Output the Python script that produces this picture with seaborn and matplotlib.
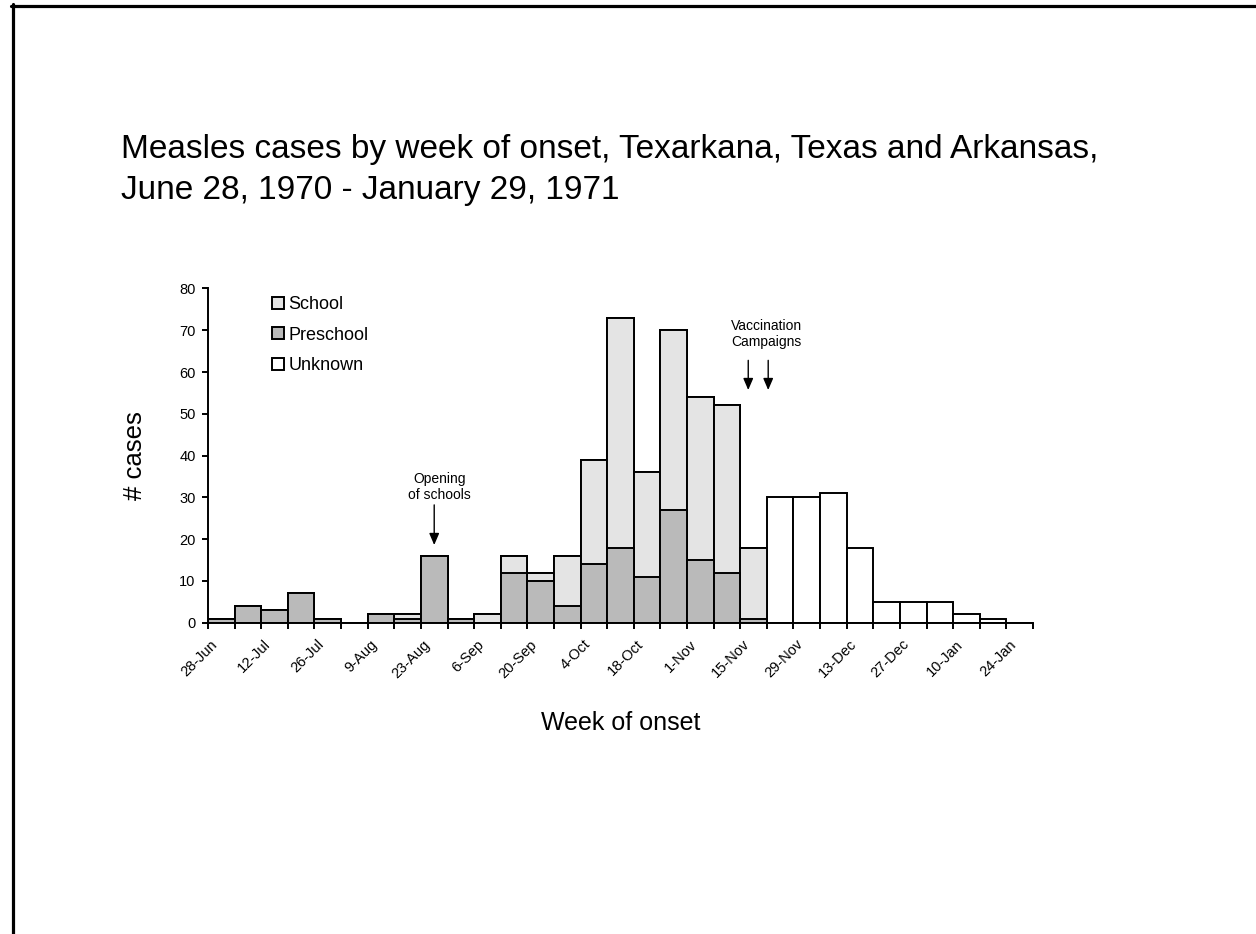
import numpy as np
import pandas as pd
import matplotlib.pyplot as plt
import seaborn as sns
from matplotlib import transforms
from matplotlib.patches import Patch
from matplotlib.lines import Line2D

# weekly counts, week of onset starting 28-Jun-1970
weeks = ['28-Jun', '5-Jul', '12-Jul', '19-Jul', '26-Jul', '2-Aug', '9-Aug', '16-Aug',
         '23-Aug', '30-Aug', '6-Sep', '13-Sep', '20-Sep', '27-Sep', '4-Oct', '11-Oct',
         '18-Oct', '25-Oct', '1-Nov', '8-Nov', '15-Nov', '22-Nov', '29-Nov', '6-Dec',
         '13-Dec', '20-Dec', '27-Dec', '3-Jan', '10-Jan', '17-Jan', '24-Jan']
preschool = [1, 4, 3, 7, 1, 0, 2, 1, 16, 1, 0, 12, 10, 4, 14, 18,
             11, 27, 15, 12, 1, 0, 0, 0, 0, 0, 0, 0, 0, 0, 0]
school = [0, 0, 0, 0, 0, 0, 0, 1, 0, 0, 2, 4, 2, 12, 25, 55,
          25, 43, 39, 40, 17, 0, 0, 0, 0, 0, 0, 0, 0, 0, 0]
unknown = [0, 0, 0, 0, 0, 0, 0, 0, 0, 0, 0, 0, 0, 0, 0, 0,
           0, 0, 0, 0, 0, 30, 30, 31, 18, 5, 5, 5, 2, 1, 0]
tick_labels = weeks[::2]

df = pd.DataFrame({'week': weeks, 'preschool': preschool, 'school': school, 'unknown': unknown})
df['pre_school'] = df['preschool'] + df['school']
df['total'] = df['pre_school'] + df['unknown']

sns.set_style('white')
plt.rcParams['font.family'] = ['Liberation Sans', 'DejaVu Sans']
plt.rcParams['text.color'] = 'black'
plt.rcParams['axes.labelcolor'] = 'black'
plt.rcParams['xtick.color'] = 'black'
plt.rcParams['ytick.color'] = 'black'

col_school = '#e4e4e4'
col_pre = '#bababa'
col_unk = 'white'
lw = 1.4

fig = plt.figure(figsize=(12.56, 9.34), dpi=100)
ax = fig.add_axes([208 / 1256, 1 - 622.7 / 934, 825 / 1256, 334.2 / 934])

# stacked bars drawn as overlaid cumulative totals
for col, c in [('total', col_unk), ('pre_school', col_school), ('preschool', col_pre)]:
    sns.barplot(data=df, x='week', y=col, color=c, saturation=1, width=1,
                edgecolor='black', linewidth=lw, ax=ax)

ax.set_xlim(-0.5, len(weeks) - 0.5)
ax.set_ylim(0, 80)
ax.set_yticks(range(0, 81, 10))
ax.tick_params(axis='y', direction='out', length=4, width=lw, labelsize=10.5, pad=5,
               colors='black', left=True)

ax.set_xticks(range(0, len(weeks), 2))
ax.set_xticklabels(tick_labels, rotation=45, ha='right', va='center', rotation_mode='anchor')
ax.set_xticks(np.arange(-0.5, len(weeks), 1), minor=True)
ax.tick_params(axis='x', which='major', length=0, labelsize=10.5, pad=14, colors='black')
ax.tick_params(axis='x', which='minor', direction='out', length=4, width=lw,
               colors='black', bottom=True)
offset = transforms.ScaledTranslation(-0.06, 0, fig.dpi_scale_trans)
for lab in ax.get_xticklabels():
    lab.set_transform(lab.get_transform() + offset)

for side in ['top', 'right']:
    ax.spines[side].set_visible(False)
for side in ['left', 'bottom']:
    ax.spines[side].set_color('black')
    ax.spines[side].set_linewidth(lw)

ax.set_ylabel('# cases', fontsize=18.5)
ax.yaxis.set_label_coords(-0.074, 0.5)
ax.set_xlabel('Week of onset', fontsize=18)
ax.xaxis.set_label_coords(0.5, -0.265)

handles = [Patch(facecolor=col_school, edgecolor='black', linewidth=lw, label='School'),
           Patch(facecolor=col_pre, edgecolor='black', linewidth=lw, label='Preschool'),
           Patch(facecolor=col_unk, edgecolor='black', linewidth=lw, label='Unknown')]
ax.legend(handles=handles, loc='upper left', bbox_to_anchor=(272 / 1256, 1 - 296 / 934),
          bbox_transform=fig.transFigure, frameon=False, fontsize=13,
          handlelength=0.65, handleheight=0.65, handletextpad=0.25,
          labelspacing=0.75, borderpad=0, borderaxespad=0)

arrow = dict(arrowstyle='-|>,head_length=0.7,head_width=0.3', color='black', lw=1,
             shrinkA=0, shrinkB=0)
ax.annotate('', xy=(8, 18.6), xytext=(8, 28.2), arrowprops=arrow)
ax.text(8.2, 28.8, 'Opening\nof schools', ha='center', va='bottom', fontsize=10)
ax.annotate('', xy=(19.8, 55.7), xytext=(19.8, 62.8), arrowprops=arrow)
ax.annotate('', xy=(20.55, 55.7), xytext=(20.55, 62.8), arrowprops=arrow)
ax.text(20.5, 65.5, 'Vaccination\nCampaigns', ha='center', va='bottom', fontsize=10)

fig.text(121 / 1256, 1 - 134 / 934,
         'Measles cases by week of onset, Texarkana, Texas and Arkansas,\n'
         'June 28, 1970 - January 29, 1971',
         ha='left', va='top', fontsize=24, linespacing=1.42)

# slide frame
fig.add_artist(Line2D([11 / 1256, 1], [1 - 5.5 / 934, 1 - 5.5 / 934],
                      transform=fig.transFigure, color='black', lw=2.3))
fig.add_artist(Line2D([12.5 / 1256, 12.5 / 1256], [0, 1 - 4 / 934],
                      transform=fig.transFigure, color='black', lw=2.3))

fig.savefig('out.png', dpi=100)
